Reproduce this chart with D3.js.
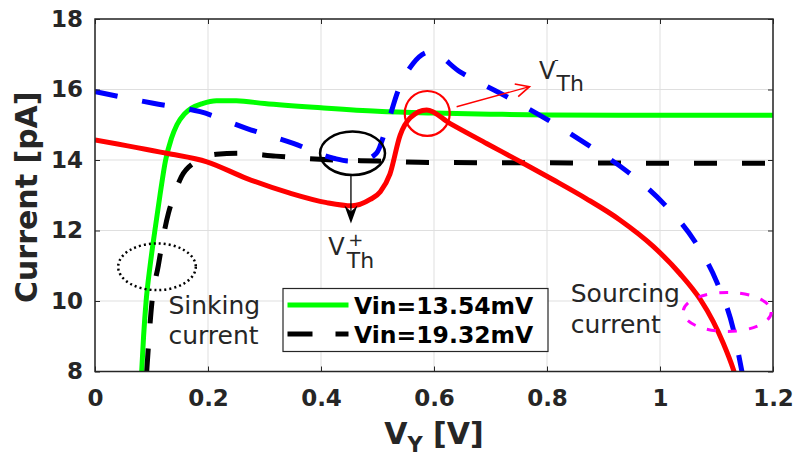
<!DOCTYPE html>
<html>
<head>
<meta charset="utf-8">
<script src="https://cdn.jsdelivr.net/npm/d3@7"></script>
<style>
  html, body { margin: 0; padding: 0; background: #fff; }
  svg { display: block; font-family: "DejaVu Sans", sans-serif; }
</style>
</head>
<body>
<svg id="chart" width="796" height="457"></svg>
<script>
// ---------------- DATA ----------------
const xTicks = [0, 0.2, 0.4, 0.6, 0.8, 1, 1.2];
const xTickLabels = ["0", "0.2", "0.4", "0.6", "0.8", "1", "1.2"];
const yTicks = [8, 10, 12, 14, 16, 18];
const yTickLabels = ["8", "10", "12", "14", "16", "18"];

const legendLabels = ["Vin=13.54mV", "Vin=19.32mV"];

// Vin = 13.54 mV (green, solid)
const greenV = [0.0826, 0.086, 0.0905, 0.0975, 0.106, 0.115, 0.125, 0.135, 0.145, 0.158, 0.171, 0.19, 0.215, 0.25, 0.3, 0.4, 0.5, 0.6, 0.7, 0.8, 1.0, 1.2];
const greenI = [8.0, 9.0, 10.0, 11.0, 12.0, 13.0, 14.0, 14.6, 15.0, 15.3, 15.47, 15.6, 15.68, 15.68, 15.6, 15.48, 15.38, 15.33, 15.3, 15.28, 15.27, 15.27];

// Vin = 19.32 mV (black, dashed)
const blackV = [0.0915, 0.101, 0.112, 0.123, 0.13, 0.14, 0.153, 0.174, 0.215, 0.256, 0.32, 0.398, 0.5, 0.6, 0.8, 1.0, 1.2];
const blackI = [8.0, 10.0, 11.0, 12.0, 12.49, 13.0, 13.53, 13.91, 14.16, 14.19, 14.11, 14.02, 13.97, 13.93, 13.92, 13.91, 13.91];

// blue dashed curve
const blueV = [0, 0.103, 0.186, 0.268, 0.351, 0.422, 0.451, 0.475, 0.498, 0.516, 0.537, 0.563, 0.593, 0.646, 0.726, 0.799, 0.873, 0.944, 1.009, 1.062, 1.101, 1.130, 1.145, 1.15];
const blueI = [15.94, 15.61, 15.37, 14.90, 14.47, 14.05, 13.97, 14.0, 14.19, 14.94, 15.99, 16.74, 17.07, 16.5, 15.82, 15.16, 14.42, 13.65, 12.72, 11.68, 10.52, 9.18, 8.0, 7.6];

// red solid curve
const redV = [0, 0.127, 0.198, 0.268, 0.345, 0.41, 0.455, 0.487, 0.505, 0.522, 0.54, 0.558, 0.587, 0.628, 0.693, 0.752, 0.811, 0.870, 0.929, 0.988, 1.035, 1.071, 1.094, 1.112, 1.130, 1.136];
const redI = [14.57, 14.19, 13.95, 13.48, 13.06, 12.79, 12.70, 12.88, 13.1, 13.6, 14.7, 15.2, 15.42, 15.04, 14.47, 13.96, 13.44, 12.90, 12.30, 11.55, 10.78, 10.05, 9.42, 8.80, 8.05, 7.75];

// ---------------- LAYOUT ----------------
const svg = d3.select("#chart");
const W = 796, H = 457;
const margin = { left: 95, right: 23, top: 19, bottom: 85.5 };
const x = d3.scaleLinear().domain([0, 1.2]).range([margin.left, W - margin.right]);
const y = d3.scaleLinear().domain([8, 18]).range([H - margin.bottom, margin.top]);
const axisColor = "#262626";

svg.append("rect").attr("width", W).attr("height", H).attr("fill", "#fff");

svg.append("defs").append("clipPath").attr("id", "clip")
  .append("rect").attr("x", x(0)).attr("y", y(18))
  .attr("width", x(1.2) - x(0)).attr("height", y(8) - y(18));

// grid
const grid = svg.append("g");
grid.selectAll(".gx").data(xTicks).enter().append("line")
  .attr("x1", d => x(d)).attr("x2", d => x(d))
  .attr("y1", y(8)).attr("y2", y(18))
  .attr("stroke", "#dfdfdf").attr("stroke-width", 1);
grid.selectAll(".gy").data(yTicks).enter().append("line")
  .attr("x1", x(0)).attr("x2", x(1.2))
  .attr("y1", d => y(d)).attr("y2", d => y(d))
  .attr("stroke", "#dfdfdf").attr("stroke-width", 1);

// curves
const plot = svg.append("g").attr("clip-path", "url(#clip)");
const line = d3.line().x(d => x(d[0])).y(d => y(d[1])).curve(d3.curveMonotoneX);
function series(vs, is) { return vs.map((v, i) => [v, is[i]]); }

plot.append("path").datum(series(greenV, greenI))
  .attr("d", line).attr("fill", "none").attr("stroke", "#00ff00").attr("stroke-width", 5);
plot.append("path").datum(series(blackV, blackI))
  .attr("d", line).attr("fill", "none").attr("stroke", "#000").attr("stroke-width", 5)
  .attr("stroke-dasharray", "23,25");
plot.append("path").datum(series(blueV, blueI))
  .attr("d", line).attr("fill", "none").attr("stroke", "#0000ff").attr("stroke-width", 5)
  .attr("stroke-dasharray", "23,25");
plot.append("path").datum(series(redV, redI))
  .attr("d", line).attr("fill", "none").attr("stroke", "#ff0000").attr("stroke-width", 5);

// axes
const fmtX = (d, i) => xTickLabels[i];
const fmtY = (d, i) => yTickLabels[i];
const gx = svg.append("g").attr("transform", `translate(0,${y(8)})`)
  .call(d3.axisBottom(x).tickValues(xTicks).tickFormat(fmtX).tickSize(-5).tickPadding(18));
const gy = svg.append("g").attr("transform", `translate(${x(0)},0)`)
  .call(d3.axisLeft(y).tickValues(yTicks).tickFormat(fmtY).tickSize(-5).tickPadding(12));
const gt = svg.append("g").attr("transform", `translate(0,${y(18)})`)
  .call(d3.axisTop(x).tickValues(xTicks).tickFormat("").tickSize(-5));
const gr = svg.append("g").attr("transform", `translate(${x(1.2)},0)`)
  .call(d3.axisRight(y).tickValues(yTicks).tickFormat("").tickSize(-5));
[gx, gy, gt, gr].forEach(g => {
  g.select(".domain").remove();
  g.selectAll("line").attr("stroke", axisColor).attr("stroke-width", 1);
  g.selectAll("text").attr("fill", axisColor).attr("font-size", 23).attr("font-weight", "bold")
    .attr("font-family", "DejaVu Sans");
});
svg.append("rect").attr("x", x(0)).attr("y", y(18))
  .attr("width", x(1.2) - x(0)).attr("height", y(8) - y(18))
  .attr("fill", "none").attr("stroke", axisColor).attr("stroke-width", 1.5);

// axis labels
svg.append("text").attr("transform", `translate(37,${(y(8) + y(18)) / 2 + 2}) rotate(-90)`)
  .attr("text-anchor", "middle").attr("font-size", 30).attr("font-weight", "bold")
  .attr("fill", axisColor).text("Current [pA]");
const xl = svg.append("text").attr("x", (x(0) + x(1.2)) / 2).attr("y", 444)
  .attr("text-anchor", "middle").attr("font-size", 30).attr("font-weight", "bold").attr("fill", axisColor);
xl.append("tspan").text("V");
xl.append("tspan").attr("font-size", 21).attr("dy", 8).text("Y");
xl.append("tspan").attr("dy", -8).text(" [V]");

// ---------------- ANNOTATIONS (data coords) ----------------
const ann = svg.append("g");
// black ellipse around V_Th+
const bE = { v: 0.4558, i: 14.19, rv: 0.0575, ri: 0.616 };
ann.append("ellipse").attr("cx", x(bE.v)).attr("cy", y(bE.i))
  .attr("rx", x(bE.rv) - x(0)).attr("ry", y(8) - y(8 + bE.ri))
  .attr("fill", "none").attr("stroke", "#000").attr("stroke-width", 2.5);
// black arrow down
const bA = { v: 0.453, i0: 13.55, i1: 12.20 };
ann.append("line").attr("x1", x(bA.v)).attr("x2", x(bA.v))
  .attr("y1", y(bA.i0)).attr("y2", y(bA.i1) - 10)
  .attr("stroke", "#000").attr("stroke-width", 1.3);
{
  const tx = x(bA.v), ty = y(bA.i1);
  ann.append("path")
    .attr("d", `M${tx},${ty} L${tx - 6.5},${ty - 18} L${tx},${ty - 12} L${tx + 6.5},${ty - 18} Z`)
    .attr("fill", "#000");
}
// V_Th+ label
const lp = { v: 0.413, i: 11.30 };
ann.append("text").attr("x", x(lp.v)).attr("y", y(lp.i)).attr("font-size", 24).attr("fill", "#262626").text("V");
ann.append("text").attr("x", x(lp.v) + 27.5).attr("y", y(lp.i) - 9.5).attr("text-anchor", "middle")
  .attr("font-size", 18).attr("fill", "#262626").text("+");
ann.append("text").attr("x", x(lp.v) + 18.5).attr("y", y(lp.i) + 13.3).attr("font-size", 22).attr("fill", "#262626").text("Th");

// red circle around V_Th-
const rC = { v: 0.588, i: 15.32, r: 0.0398 };
ann.append("circle").attr("cx", x(rC.v)).attr("cy", y(rC.i)).attr("r", x(rC.r) - x(0))
  .attr("fill", "none").attr("stroke", "#ff0000").attr("stroke-width", 2.2);
// red arrow
const rA = { v0: 0.640, i0: 15.51, v1: 0.769, i1: 16.08 };
{
  const x0 = x(rA.v0), y0 = y(rA.i0), x1 = x(rA.v1), y1 = y(rA.i1);
  ann.append("line").attr("x1", x0).attr("y1", y0).attr("x2", x1).attr("y2", y1)
    .attr("stroke", "#ff0000").attr("stroke-width", 1.4);
  const ang = Math.atan2(y1 - y0, x1 - x0), L = 15, a = 0.45;
  const p1 = [x1 - L * Math.cos(ang - a), y1 - L * Math.sin(ang - a)];
  const p2 = [x1 - L * Math.cos(ang + a), y1 - L * Math.sin(ang + a)];
  ann.append("path").attr("d", `M${p1[0]},${p1[1]} L${x1},${y1} L${p2[0]},${p2[1]}`)
    .attr("fill", "none").attr("stroke", "#ff0000").attr("stroke-width", 1.6);
}
// V_Th- label
const lm = { v: 0.786, i: 16.30 };
ann.append("text").attr("x", x(lm.v)).attr("y", y(lm.i)).attr("font-size", 24).attr("fill", "#262626").text("V");
ann.append("text").attr("x", x(lm.v) + 15).attr("y", y(lm.i) - 15).attr("font-size", 13).attr("fill", "#262626").text("-");
ann.append("text").attr("x", x(lm.v) + 17.5).attr("y", y(lm.i) + 11.7).attr("font-size", 22).attr("fill", "#262626").text("Th");

// dotted ellipse (sinking)
const dE = { v: 0.1097, i: 10.97, rv: 0.0687, ri: 0.661 };
ann.append("ellipse").attr("cx", x(dE.v)).attr("cy", y(dE.i))
  .attr("rx", x(dE.rv) - x(0)).attr("ry", y(8) - y(8 + dE.ri))
  .attr("fill", "none").attr("stroke", "#000").attr("stroke-width", 2.5)
  .attr("stroke-dasharray", "2,3");
const sk = { v: 0.13, i1: 9.63, i2: 8.78 };
ann.append("text").attr("x", x(sk.v)).attr("y", y(sk.i1)).attr("font-size", 25).attr("fill", "#262626").text("Sinking");
ann.append("text").attr("x", x(sk.v)).attr("y", y(sk.i2)).attr("font-size", 25).attr("fill", "#262626").text("current");

// magenta dashed ellipse (sourcing)
const mE = { v: 1.119, i: 9.69, rv: 0.078, ri: 0.553 };
ann.append("ellipse").attr("cx", x(mE.v)).attr("cy", y(mE.i))
  .attr("rx", x(mE.rv) - x(0)).attr("ry", y(8) - y(8 + mE.ri))
  .attr("fill", "none").attr("stroke", "#ff00ff").attr("stroke-width", 3)
  .attr("stroke-dasharray", "9,12");
const sc = { v: 0.842, i1: 9.98, i2: 9.08 };
ann.append("text").attr("x", x(sc.v)).attr("y", y(sc.i1)).attr("font-size", 25).attr("fill", "#262626").text("Sourcing");
ann.append("text").attr("x", x(sc.v)).attr("y", y(sc.i2)).attr("font-size", 25).attr("fill", "#262626").text("current");

// ---------------- LEGEND ----------------
const lg = svg.append("g").attr("transform", "translate(283,288.5)");
lg.append("rect").attr("width", 265).attr("height", 63).attr("fill", "#fff")
  .attr("stroke", axisColor).attr("stroke-width", 1.2);
const legendStyles = [
  { color: "#00ff00", dash: null },
  { color: "#000", dash: "25,23" }
];
legendLabels.forEach((lab, k) => {
  const yy = 16.5 + k * 29;
  lg.append("line").attr("x1", 4.5).attr("x2", 65.5).attr("y1", yy).attr("y2", yy)
    .attr("stroke", legendStyles[k].color).attr("stroke-width", 5)
    .attr("stroke-dasharray", legendStyles[k].dash);
  lg.append("text").attr("x", 71).attr("y", yy + 8.5).attr("font-size", 23.5).attr("font-weight", "bold")
    .attr("fill", "#000").text(lab);
});
</script>
</body>
</html>
